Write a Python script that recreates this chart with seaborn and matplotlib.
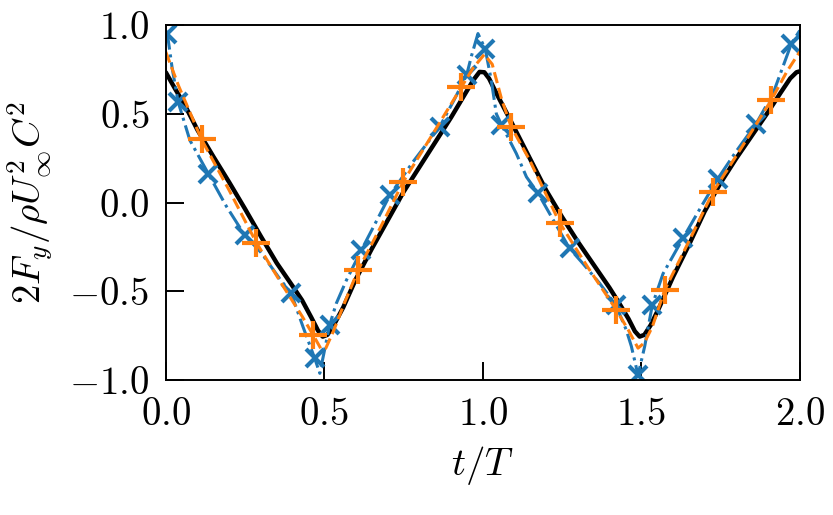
import matplotlib
matplotlib.use("Agg")
import matplotlib.pyplot as plt
import seaborn as sns
import numpy as np

# black solid curve
black_t = [0.00, 0.03, 0.06, 0.10, 0.15, 0.20, 0.25, 0.30, 0.35, 0.40, 0.43, 0.46, 0.48, 0.495,
           0.51, 0.53, 0.56, 0.60, 0.65, 0.70, 0.75, 0.80, 0.85, 0.90, 0.94, 0.97, 0.99,
           1.005, 1.02, 1.045, 1.08, 1.12, 1.16, 1.20, 1.25, 1.30, 1.35, 1.40, 1.43, 1.46, 1.48, 1.495,
           1.51, 1.53, 1.558, 1.60, 1.65, 1.70, 1.75, 1.80, 1.85, 1.90, 1.94, 1.97, 1.99, 2.00]
black_y = [0.735, 0.64, 0.55, 0.41, 0.26, 0.115, -0.035, -0.19, -0.34, -0.47, -0.55, -0.65, -0.72, -0.755,
           -0.745, -0.69, -0.59, -0.43, -0.26, -0.10, 0.06, 0.20, 0.34, 0.48, 0.60, 0.69, 0.737,
           0.735, 0.70, 0.61, 0.49, 0.35, 0.21, 0.07, -0.08, -0.22, -0.35, -0.48, -0.565, -0.655, -0.725, -0.755,
           -0.745, -0.69, -0.587, -0.42, -0.24, -0.05, 0.11, 0.25, 0.38, 0.51, 0.62, 0.70, 0.735, 0.74]

# orange dashed curve with "+" markers
orange_t = [0.00, 0.04, 0.113, 0.20, 0.286, 0.37, 0.43, 0.465, 0.49, 0.505, 0.53, 0.565, 0.607,
            0.68, 0.749, 0.84, 0.933, 0.97, 1.005, 1.03, 1.06, 1.09, 1.148, 1.243, 1.33, 1.422,
            1.46, 1.49, 1.51, 1.535, 1.574, 1.65, 1.727, 1.82, 1.91, 1.96, 2.00]
orange_y = [0.85, 0.66, 0.356, 0.07, -0.226, -0.47, -0.64, -0.746, -0.825, -0.82, -0.72, -0.56, -0.38,
            -0.13, 0.117, 0.38, 0.652, 0.76, 0.835, 0.78, 0.58, 0.427, 0.24, -0.114, -0.36, -0.606,
            -0.72, -0.82, -0.79, -0.70, -0.493, -0.22, 0.061, 0.32, 0.577, 0.74, 0.85]
orange_marks = [0.113, 0.286, 0.465, 0.607, 0.749, 0.933, 1.09, 1.243, 1.422, 1.574, 1.727, 1.91]

# blue dash-dot curve with "x" markers
blue_t = [0.00, 0.005, 0.02, 0.039, 0.076, 0.134, 0.191, 0.249, 0.30, 0.36, 0.396, 0.433, 0.47, 0.486,
          0.517, 0.538, 0.57, 0.617, 0.66, 0.707, 0.78, 0.864, 0.91, 0.949, 0.965, 0.985, 1.008,
          1.027, 1.043, 1.059, 1.106, 1.138, 1.175, 1.22, 1.274, 1.316, 1.369, 1.42, 1.453, 1.469,
          1.49, 1.511, 1.535, 1.569, 1.632, 1.69, 1.742, 1.80, 1.863, 1.916, 1.974, 2.00]
blue_y = [0.97, 0.953, 0.76, 0.568, 0.352, 0.164, -0.02, -0.183, -0.28, -0.43, -0.512, -0.70, -0.878, -0.962,
          -0.69, -0.568, -0.437, -0.268, -0.12, 0.042, 0.23, 0.427, 0.58, 0.718, 0.83, 0.953, 0.866,
          0.69, 0.50, 0.44, 0.277, 0.145, 0.052, -0.09, -0.258, -0.343, -0.455, -0.577, -0.718, -0.81,
          -0.972, -0.81, -0.577, -0.40, -0.20, -0.02, 0.136, 0.29, 0.446, 0.615, 0.897, 0.97]
blue_marks = [0.005, 0.039, 0.134, 0.249, 0.396, 0.47, 0.517, 0.617, 0.707, 0.864, 0.949, 1.008,
              1.059, 1.175, 1.274, 1.42, 1.49, 1.535, 1.632, 1.742, 1.863, 1.974]

sns.set_style("ticks")
plt.rcParams["font.family"] = "serif"
plt.rcParams["font.serif"] = ["cmr10"]
plt.rcParams["mathtext.fontset"] = "cm"
plt.rcParams["axes.formatter.use_mathtext"] = True
plt.rcParams["axes.unicode_minus"] = True
plt.rcParams["text.color"] = "black"
plt.rcParams["axes.labelcolor"] = "black"
plt.rcParams["axes.edgecolor"] = "black"
plt.rcParams["xtick.color"] = "black"
plt.rcParams["ytick.color"] = "black"

fig, ax = plt.subplots(figsize=(8.33, 5.15), dpi=100)
fig.subplots_adjust(left=0.199, right=0.960, top=0.951, bottom=0.262)

blue = "#1f77b4"
orange = "#ff7f0e"
sns.lineplot(x=black_t, y=black_y, color="black", linewidth=3.2, estimator=None, sort=False, ax=ax)
sns.lineplot(x=blue_t, y=blue_y, color=blue, linewidth=2.2, linestyle="-.",
             marker="x", markersize=13, markeredgewidth=3, markeredgecolor=blue,
             markevery=list(np.isin(blue_t, blue_marks)),
             estimator=None, sort=False, ax=ax)
sns.lineplot(x=orange_t, y=orange_y, color=orange, linewidth=2.2, linestyle="--",
             marker="+", markersize=20, markeredgewidth=3, markeredgecolor=orange,
             markevery=list(np.isin(orange_t, orange_marks)),
             estimator=None, sort=False, ax=ax)

ax.set_xlim(0, 2)
ax.set_ylim(-1, 1)
ax.set_xticks([0, 0.5, 1.0, 1.5, 2.0])
ax.set_yticks([-1.0, -0.5, 0.0, 0.5, 1.0])
ax.tick_params(direction="in", length=13, width=1.4, labelsize=28, top=False, right=False)
ax.tick_params(axis="x", pad=12)
ax.tick_params(axis="y", pad=12)
for s in ax.spines.values():
    s.set_linewidth(1.4)
    s.set_visible(True)

ax.set_xlabel(r"$t/T$", fontsize=28, labelpad=8)
ax.set_ylabel(r"$2F_y/\rho U_\infty^2 C^2$", fontsize=28, labelpad=10)

fig.savefig("out.png", dpi=100)
